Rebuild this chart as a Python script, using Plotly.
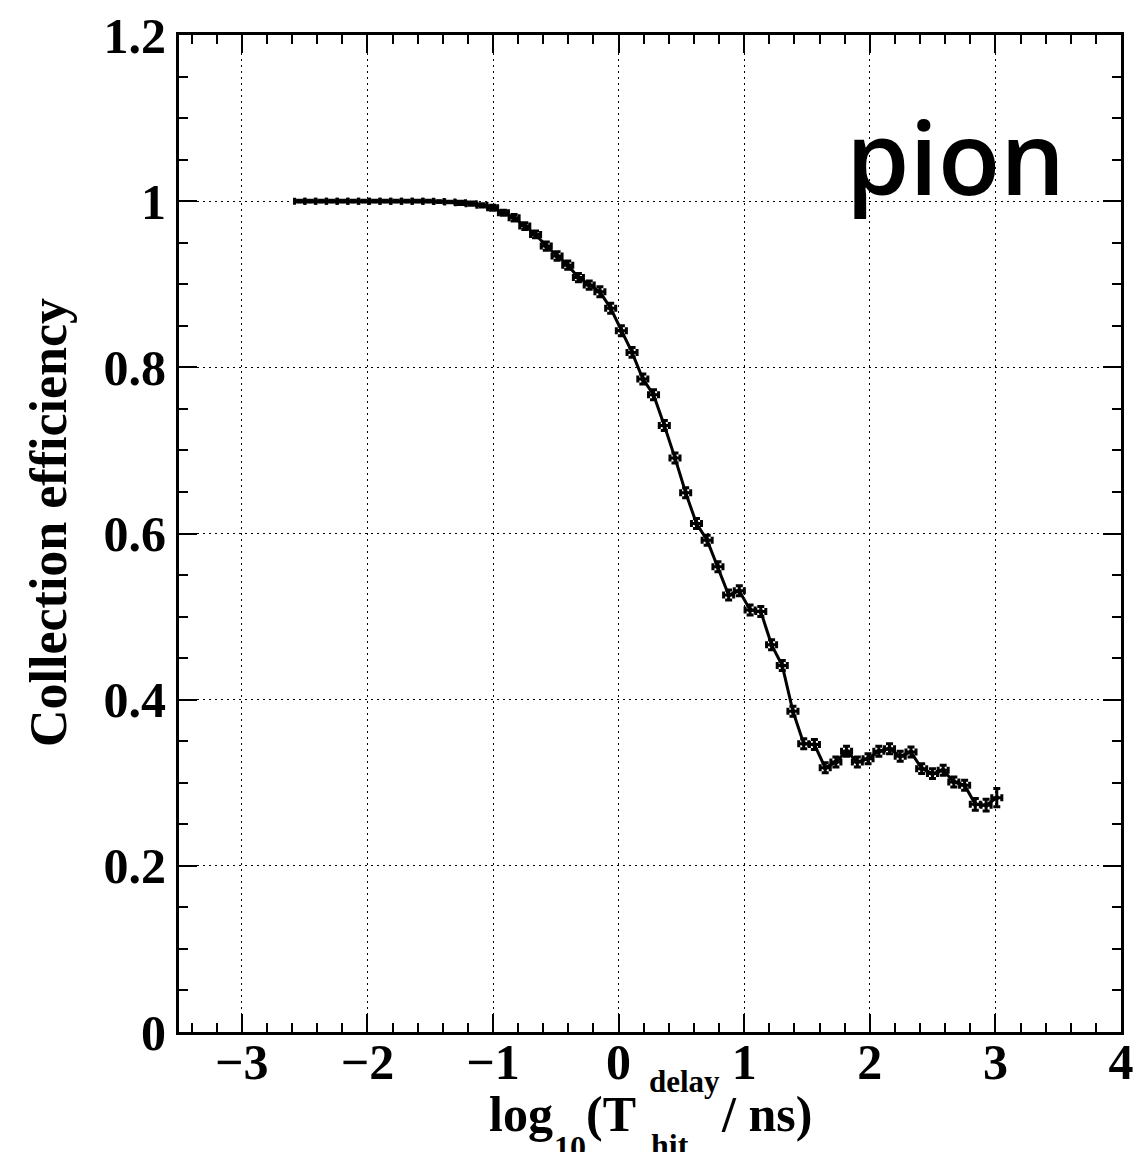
import plotly.graph_objects as go

# ---- data ----
log_t = [-2.540, -2.455, -2.369, -2.284, -2.198, -2.113, -2.028, -1.942, -1.857, -1.771,
         -1.686, -1.601, -1.515, -1.430, -1.344, -1.259, -1.174, -1.088, -1.003, -0.917,
         -0.832, -0.747, -0.661, -0.576, -0.490, -0.405, -0.320, -0.234, -0.149, -0.063,
         0.022, 0.107, 0.193, 0.278, 0.364, 0.449, 0.534, 0.620, 0.705, 0.791,
         0.876, 0.961, 1.047, 1.132, 1.218, 1.303, 1.388, 1.474, 1.559, 1.645,
         1.730, 1.815, 1.901, 1.986, 2.072, 2.157, 2.242, 2.328, 2.413, 2.499,
         2.584, 2.669, 2.755, 2.840, 2.926, 3.011]
efficiency = [1.000, 1.000, 1.000, 1.000, 1.000, 1.000, 1.000, 1.000, 1.000, 1.000,
              1.000, 1.000, 1.000, 0.9995, 0.999, 0.998, 0.997, 0.995, 0.992, 0.986,
              0.980, 0.970, 0.960, 0.946, 0.934, 0.923, 0.908, 0.899, 0.891, 0.871,
              0.844, 0.818, 0.786, 0.767, 0.730, 0.691, 0.649, 0.612, 0.592, 0.560,
              0.526, 0.531, 0.508, 0.506, 0.466, 0.441, 0.386, 0.347, 0.346, 0.318,
              0.325, 0.338, 0.325, 0.329, 0.338, 0.341, 0.332, 0.337, 0.317, 0.311,
              0.315, 0.301, 0.297, 0.274, 0.273, 0.282]
eff_err = [0.001, 0.001, 0.001, 0.001, 0.001, 0.001, 0.001, 0.001, 0.001, 0.001,
           0.001, 0.001, 0.001, 0.001, 0.001, 0.002, 0.002, 0.002, 0.003, 0.003,
           0.004, 0.004, 0.004, 0.005, 0.005, 0.005, 0.005, 0.005, 0.006, 0.006,
           0.006, 0.006, 0.006, 0.006, 0.006, 0.006, 0.006, 0.006, 0.006, 0.006,
           0.006, 0.006, 0.006, 0.006, 0.006, 0.006, 0.006, 0.006, 0.006, 0.006,
           0.006, 0.006, 0.006, 0.006, 0.006, 0.006, 0.006, 0.006, 0.006, 0.006,
           0.006, 0.006, 0.006, 0.007, 0.007, 0.011]
bin_half = [0.04] * len(log_t)

x_ticks = [-3, -2, -1, 0, 1, 2, 3, 4]
x_tick_text = ["\u22123", "\u22122", "\u22121", "0", "1", "2", "3", "4"]
y_ticks = [0, 0.2, 0.4, 0.6, 0.8, 1.0, 1.2]
y_tick_text = ["0", "0.2", "0.4", "0.6", "0.8", "1", "1.2"]

SERIF = "Liberation Serif, Times New Roman, serif"

fig = go.Figure()
fig.add_trace(go.Scatter(
    x=log_t, y=efficiency, mode="lines+markers",
    line=dict(color="black", width=3),
    marker=dict(symbol="square", size=4, color="black"),
    error_y=dict(type="data", array=eff_err, color="black", thickness=3, width=3.5),
    error_x=dict(type="data", array=bin_half, color="black", thickness=3, width=3.5),
    showlegend=False,
))

axis_common = dict(
    showline=True, linecolor="black", linewidth=3, mirror="allticks",
    ticks="inside", ticklen=18, tickwidth=1.5, tickcolor="black",
    showgrid=True, gridcolor="black", gridwidth=1.2, griddash="1.5px,4.5px",
    zeroline=False, automargin=False,
    tickfont=dict(family=SERIF, size=50, color="black", weight="bold"),
)

fig.update_xaxes(range=[-3.5, 4.0], tickvals=x_ticks, ticktext=x_tick_text,
                 ticklabelstandoff=-16,
                 minor=dict(dtick=0.2, tick0=0, ticks="inside", ticklen=9,
                            tickwidth=1.5, tickcolor="black", showgrid=False),
                 **axis_common)
fig.update_yaxes(range=[0, 1.2], tickvals=y_ticks, ticktext=y_tick_text,
                 minor=dict(dtick=0.05, tick0=0, ticks="inside", ticklen=9,
                            tickwidth=1.5, tickcolor="black", showgrid=False),
                 **axis_common)

def px_to_paper_y(py):
    return (1032 - py) / 997.0

def px_to_x(px):
    return (px - 619.8) / 125.9

annots = [
    ("log", 488, 1114, 50),
    ("10", 553, 1147, 32),
    ("(T", 585, 1114, 50),
    ("delay", 648, 1081, 31),
    ("hit", 650, 1145, 32),
    ("/ ns)", 720, 1114, 50),
]
for txt, px, py, sz in annots:
    fig.add_annotation(text=txt, x=px_to_x(px), xref="x", y=px_to_paper_y(py), yref="paper",
                       xanchor="left", yanchor="middle", showarrow=False,
                       font=dict(family=SERIF, size=sz, color="black", weight="bold"))

fig.add_annotation(text="Collection efficiency", x=(48 - 179) / 942.0, xref="paper",
                   y=px_to_paper_y(523), yref="paper",
                   showarrow=False, textangle=-90, xanchor="center", yanchor="middle",
                   font=dict(family=SERIF, size=52, color="black", weight="bold"))

fig.add_annotation(text="pion", x=px_to_x(846), xref="x", y=px_to_paper_y(155), yref="paper",
                   xanchor="left", yanchor="middle", showarrow=False,
                   font=dict(family="Open Sans", size=102, color="black", weight=600))

fig.update_layout(
    width=1138, height=1152,
    margin=dict(l=179, r=17, t=35, b=120),
    paper_bgcolor="white", plot_bgcolor="white",
)

fig.write_html("out.html")
